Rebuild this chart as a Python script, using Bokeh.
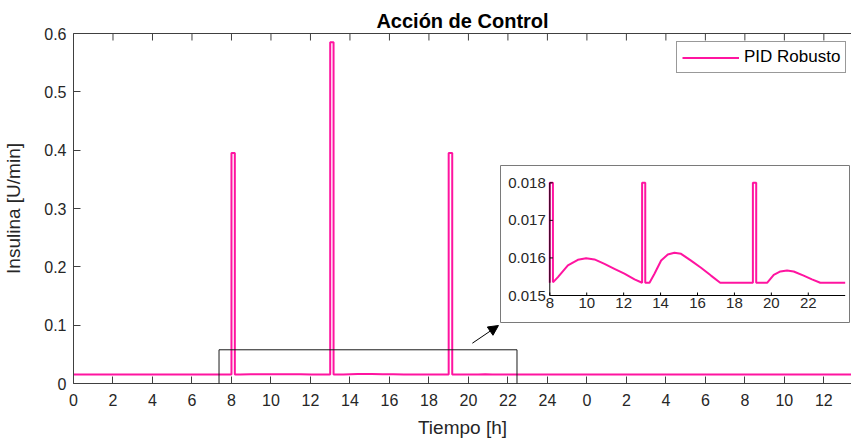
import numpy as np
from bokeh.plotting import figure
from bokeh.models import (Range1d, LinearAxis, FixedTicker, Arrow, NormalHead,
                          BoxAnnotation, Legend, LegendItem, ColumnDataSource)
from bokeh.core.properties import value
from bokeh.embed import file_html
from bokeh.resources import INLINE

# ---------------- data ----------------
title_text = "Acción de Control"
x_label = "Tiempo [h]"
y_label = "Insulina [U/min]"
series_name = "PID Robusto"

time_h = [0.0, 8.0, 8.0, 8.17, 8.17, 8.44, 8.98, 9.52, 9.97, 10.42, 10.96, 11.5,
          12.04, 12.59, 13.0, 13.0, 13.17, 13.17, 13.4, 13.67, 14.03, 14.39, 14.75,
          15.11, 15.65, 16.19, 16.73, 17.23, 19.0, 19.0, 19.18, 19.18, 19.78, 20.13,
          20.49, 20.85, 21.21, 21.75, 22.2, 22.65, 24.0, 39.4]
insulin = [0.01534, 0.01534, 0.395, 0.395, 0.01535, 0.01549, 0.0158, 0.01595, 0.01599,
           0.01596, 0.01584, 0.01571, 0.01558, 0.01543, 0.01534, 0.585, 0.585, 0.01534,
           0.01534, 0.01558, 0.01593, 0.01609, 0.01614, 0.01611, 0.01593, 0.01574,
           0.01553, 0.01534, 0.01534, 0.395, 0.395, 0.01534, 0.01534, 0.01555, 0.01564,
           0.015665, 0.01564, 0.01553, 0.01543, 0.01534, 0.01534, 0.01534]

x_ticks = list(range(0, 40, 2))
x_tick_labels = ["0", "2", "4", "6", "8", "10", "12", "14", "16", "18", "20", "22", "24",
                 "0", "2", "4", "6", "8", "10", "12"]
y_ticks = [0.0, 0.1, 0.2, 0.3, 0.4, 0.5, 0.6]
y_tick_labels = ["0", "0.1", "0.2", "0.3", "0.4", "0.5", "0.6"]

inset_x_ticks = [8, 10, 12, 14, 16, 18, 20, 22]
inset_x_labels = ["8", "10", "12", "14", "16", "18", "20", "22"]
inset_y_ticks = [0.015, 0.016, 0.017, 0.018]
inset_y_labels = ["0.015", "0.016", "0.017", "0.018"]
inset_x_window = [8.0, 24.0]
inset_y_window = [0.015, 0.018]

zoom_box_x = [7.37, 22.46]
zoom_box_y = [-0.012, 0.0578]
arrow_from = [20.2, 0.0691]
arrow_to = [21.52, 0.0994]

# ---------------- layout constants (px) ----------------
W, H = 851, 440
FL, FR, FT, FB = 73, 851, 33, 383
IX0, IX1 = 549.3, 844.7      # inset axes x pixel extent
IYB, IYT = 295.0, 182.3      # inset axes y pixel (bottom, top)
BOX = (500, 165, 849, 322)   # inset outer box (l, t, r, b)
TICK = 7                     # main tick length, px

PINK = "#ff14a0"
TXT = "#262626"
AX = "#404040"
FONT = "Liberation Sans"

X0, X1 = 0, 39.4
Y0, Y1 = 0, 0.6
p = figure(width=W, height=H, x_range=Range1d(X0, X1), y_range=Range1d(Y0, Y1),
           output_backend="svg", toolbar_location=None,
           min_border_left=FL, min_border_right=W - FR, min_border_top=FT,
           min_border_bottom=H - FB, title=title_text)
p.outline_line_color = None
p.grid.visible = False
p.background_fill_color = "white"

p.title.text_font = FONT
p.title.text_font_size = "20px"
p.title.text_font_style = "bold"
p.title.text_color = "black"
p.title.align = "center"
p.title.standoff = 4
p.title.offset = 4

xa = p.xaxis[0]
xa.ticker = FixedTicker(ticks=x_ticks)
xa.major_label_overrides = {t: l for t, l in zip(x_ticks, x_tick_labels)}
ya = p.yaxis[0]
ya.ticker = FixedTicker(ticks=y_ticks)
ya.major_label_overrides = {t: l for t, l in zip(y_ticks, y_tick_labels)}
for ax in (xa, ya):
    ax.major_tick_in = TICK
    ax.major_tick_out = 0
    ax.minor_tick_line_color = None
    ax.axis_line_color = AX
    ax.major_tick_line_color = AX
    ax.major_label_text_font = FONT
    ax.major_label_text_font_size = "16px"
    ax.major_label_text_color = TXT
    ax.axis_label_text_font = FONT
    ax.axis_label_text_font_size = "19px"
    ax.axis_label_text_font_style = "normal"
    ax.axis_label_text_color = TXT
xa.axis_label = x_label
ya.axis_label = y_label
xa.major_label_standoff = 10
xa.axis_label_standoff = 8
ya.major_label_standoff = 7
ya.axis_label_standoff = 17

# top box edge: axis line only, ticks drawn as glyphs
top = LinearAxis(ticker=FixedTicker(ticks=[]), axis_line_color=AX,
                 major_tick_line_color=None, minor_tick_line_color=None,
                 major_label_text_font_size="0px", major_label_standoff=0)
p.add_layout(top, "above")
ppy_main = (FB - FT) / (Y1 - Y0)
p.segment(x0=x_ticks, y0=[Y1] * len(x_ticks), x1=x_ticks,
          y1=[Y1 - TICK / ppy_main] * len(x_ticks), line_color=AX, line_width=1)

src = ColumnDataSource(dict(t=time_h, u=insulin))
main_line = p.line("t", "u", source=src, line_color=PINK, line_width=2)

# zoom rectangle and arrow
p.add_layout(BoxAnnotation(left=zoom_box_x[0], right=zoom_box_x[1],
                           bottom=zoom_box_y[0], top=zoom_box_y[1],
                           fill_alpha=0, line_color="#1a1a1a", line_alpha=1,
                           line_width=1))
p.add_layout(Arrow(end=NormalHead(size=10, fill_color="black", line_color="black"),
                   x_start=arrow_from[0], y_start=arrow_from[1],
                   x_end=arrow_to[0], y_end=arrow_to[1],
                   line_color="black", line_width=1))

# ---------------- inset via extra ranges ----------------
ppx = (IX1 - IX0) / (inset_x_window[1] - inset_x_window[0])
ppy = (IYB - IYT) / (inset_y_window[1] - inset_y_window[0])
p.extra_x_ranges = {"ix": Range1d(inset_x_window[0] - (IX0 - FL) / ppx,
                                  inset_x_window[1] + (FR - IX1) / ppx)}
p.extra_y_ranges = {"iy": Range1d(inset_y_window[0] - (FB - IYB) / ppy,
                                  inset_y_window[1] + (IYT - FT) / ppy)}

def ix(px):
    return inset_x_window[0] + (px - IX0) / ppx

def iy(py):
    return inset_y_window[0] + (IYB - py) / ppy

kw = dict(x_range_name="ix", y_range_name="iy")
p.quad(left=[ix(BOX[0])], right=[ix(BOX[2])], top=[iy(BOX[1])], bottom=[iy(BOX[3])],
       fill_color="white", line_color="#7a7a7a", line_width=1, **kw)

t_arr = np.array(time_h)
u_arr = np.array(insulin)
mask = (t_arr >= inset_x_window[0]) & (t_arr <= inset_x_window[1])
isrc = ColumnDataSource(dict(t=t_arr[mask], u=np.minimum(u_arr[mask], inset_y_window[1])))
p.line("t", "u", source=isrc, line_color=PINK, line_width=2, **kw)

# inset axes
p.segment(x0=[inset_x_window[0], inset_x_window[0]], y0=[inset_y_window[0], inset_y_window[0]],
          x1=[inset_x_window[0], inset_x_window[1]], y1=[inset_y_window[1], inset_y_window[0]],
          line_color="black", line_width=1, **kw)
tick_len_x = 3 / ppx
tick_len_y = 3 / ppy
p.segment(x0=inset_x_ticks, y0=[inset_y_window[0]] * len(inset_x_ticks),
          x1=inset_x_ticks, y1=[inset_y_window[0] + tick_len_y] * len(inset_x_ticks),
          line_color="black", line_width=1, **kw)
p.segment(x0=[inset_x_window[0]] * len(inset_y_ticks), y0=inset_y_ticks,
          x1=[inset_x_window[0] + tick_len_x] * len(inset_y_ticks), y1=inset_y_ticks,
          line_color="black", line_width=1, **kw)
p.text(x=inset_x_ticks, y=[inset_y_window[0]] * len(inset_x_ticks), text=inset_x_labels,
       text_align="center", text_baseline="top", y_offset=2,
       text_font=value(FONT), text_font_size="15px", text_color=TXT, **kw)
p.text(x=[inset_x_window[0]] * len(inset_y_ticks), y=inset_y_ticks, text=inset_y_labels,
       text_align="right", text_baseline="middle", x_offset=-4,
       text_font=value(FONT), text_font_size="15px", text_color=TXT, **kw)

# legend
legend = Legend(items=[LegendItem(label=series_name, renderers=[main_line])],
                location=(603, 310), padding=5, margin=0, spacing=0,
                glyph_width=57, glyph_height=17, label_height=17, label_standoff=5,
                label_text_font=FONT, label_text_font_size="17px",
                label_text_color="black", border_line_color="#333333",
                background_fill_color="white", background_fill_alpha=1)
p.add_layout(legend)

open("out.html", "w").write(file_html(p, INLINE))
